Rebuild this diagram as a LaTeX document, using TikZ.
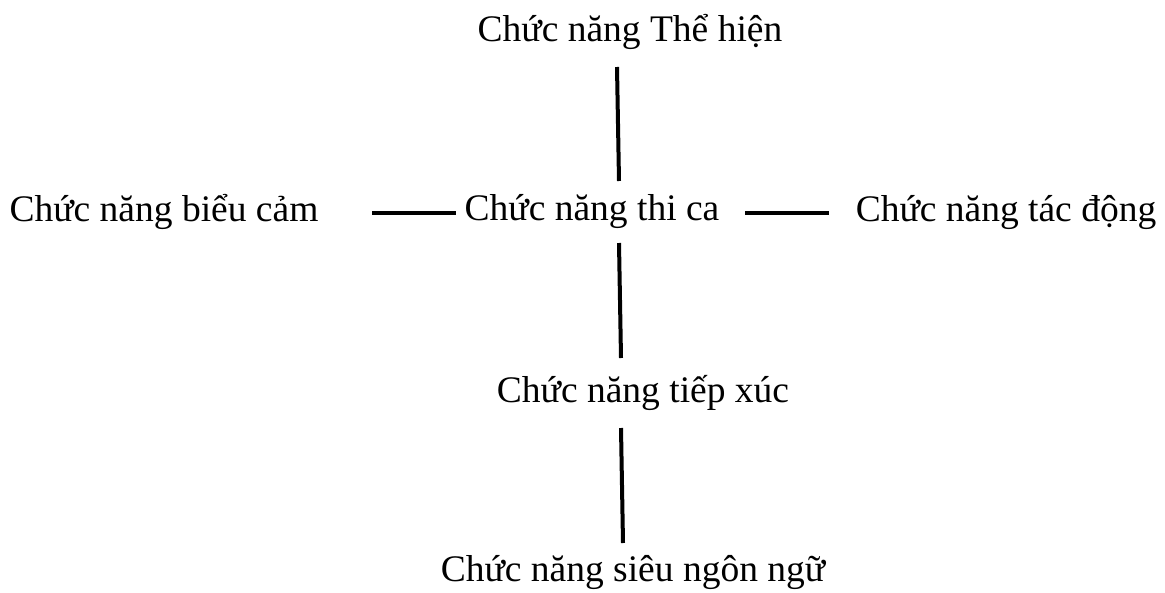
\documentclass[tikz,border=0pt]{standalone}
\usepackage{fontspec}
\setmainfont{Liberation Serif}
\begin{document}
\begin{tikzpicture}[x=1pt,y=-1pt,
  lbl/.style={inner sep=0pt,font=\fontsize{37.5}{42}\selectfont},
  conn/.style={line width=4pt}]
\useasboundingbox (0,0) rectangle (1165,592);
\node[lbl] (top) at (630,32) {Chức năng Thể hiện};
\node[lbl] (left) at (164,212) {Chức năng biểu cảm};
\node[lbl] (mid) at (592,212) {Chức năng thi ca};
\node[lbl] (right) at (1006,212) {Chức năng tác động};
\node[lbl] (low) at (643,393) {Chức năng tiếp xúc};
\node[lbl] (bot) at (633,572) {Chức năng siêu ngôn ngữ};
\coordinate (t1) at (617,67); \coordinate (t2) at (619,181);
\coordinate (l1) at (372,213); \coordinate (l2) at (456,213);
\coordinate (r1) at (745,213); \coordinate (r2) at (829,213);
\coordinate (m1) at (619,243); \coordinate (m2) at (621,358);
\coordinate (b1) at (621,428); \coordinate (b2) at (623,543);
\draw[conn] (t1) -- (t2);
\draw[conn] (l1) -- (l2);
\draw[conn] (r1) -- (r2);
\draw[conn] (m1) -- (m2);
\draw[conn] (b1) -- (b2);
\end{tikzpicture}
\end{document}
